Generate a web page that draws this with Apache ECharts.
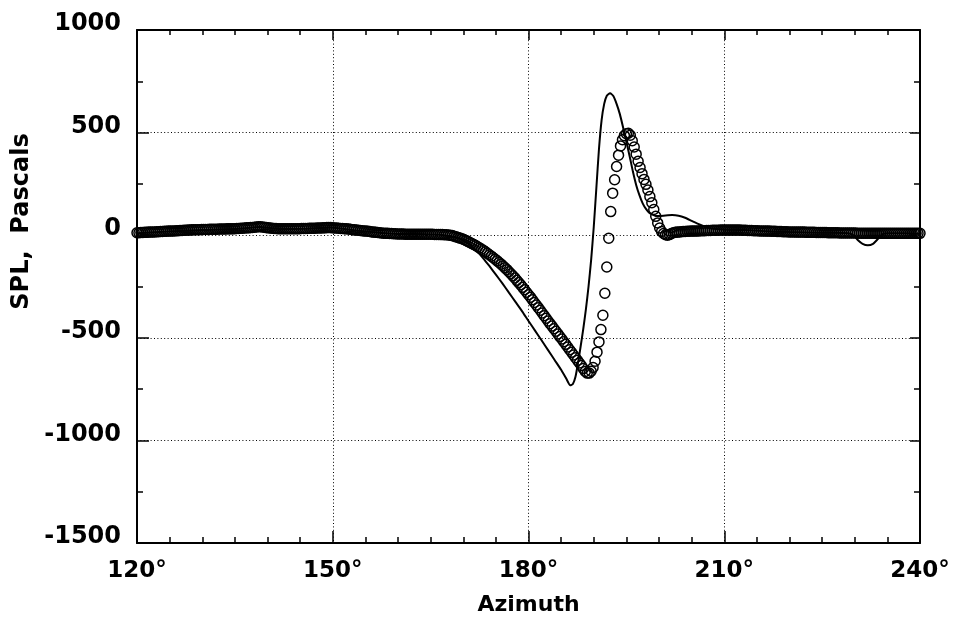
<!DOCTYPE html>
<html>
<head>
<meta charset="utf-8">
<script src="https://cdn.jsdelivr.net/npm/echarts@6/dist/echarts.min.js"></script>
<style>
  html, body { margin: 0; padding: 0; background: #fff; }
  #chart { width: 973px; height: 622px; }
</style>
</head>
<body>
<div id="chart"></div>
<script>
// Azimuth axis ticks (degrees) and SPL axis ticks (Pascals)
const azimuthTicks = [120, 150, 180, 210, 240];
const splTicks = [-1500, -1000, -500, 0, 500, 1000];

// Measured samples: uniform azimuth grid starting at 120 deg, 0.3 deg apart
const measuredAzStart = 120;
const measuredAzStep = 0.3;
const measuredSpl = [
  12, 12, 13, 13, 14, 14, 15, 15, 16, 16,
  17, 17, 18, 18, 19, 19, 20, 20, 21, 21,
  22, 22, 23, 23, 24, 24, 25, 25, 26, 26,
  27, 27, 27, 28, 28, 28, 28, 29, 29, 29,
  29, 29, 30, 30, 30, 30, 31, 31, 31, 32,
  32, 33, 33, 34, 34, 35, 36, 36, 37, 38,
  39, 40, 41, 41, 40, 39, 37, 36, 35, 34,
  33, 33, 32, 32, 32, 32, 32, 32, 32, 32,
  32, 32, 32, 32, 33, 33, 33, 33, 34, 34,
  34, 34, 35, 35, 35, 36, 36, 37, 37, 37,
  36, 35, 35, 34, 33, 33, 32, 31, 30, 29,
  27, 26, 25, 24, 23, 22, 21, 20, 19, 18,
  16, 15, 14, 13, 12, 11, 10, 10, 9, 8,
  8, 7, 7, 6, 6, 6, 6, 5, 5, 5,
  5, 5, 5, 5, 5, 5, 5, 5, 5, 5,
  5, 5, 4, 4, 4, 3, 3, 2, 2, 1,
  0, -2, -5, -8, -11, -14, -17, -21, -26, -30,
  -35, -40, -45, -50, -56, -62, -68, -74, -81, -88,
  -95, -102, -110, -117, -125, -133, -141, -150, -159, -168,
  -178, -188, -198, -208, -220, -231, -242, -254, -266, -278,
  -290, -302, -315, -328, -340, -353, -366, -379, -392, -405,
  -418, -431, -443, -456, -468, -481, -494, -506, -519, -532,
  -545, -558, -571, -584, -597, -610, -623, -635, -650, -664,
  -672, -672, -663, -645, -614, -570, -520, -460, -390, -283,
  -155, -15, 115, 205, 270, 335, 390, 435, 465, 485,
  495, 497, 487, 460, 430, 395, 360, 330, 300, 272,
  248, 220, 188, 158, 125, 92, 60, 35, 18, 8,
  2, 0, 3, 8, 12, 14, 15, 16, 17, 18,
  18, 19, 19, 20, 20, 20, 21, 21, 22, 22,
  22, 23, 23, 23, 24, 24, 24, 24, 25, 25,
  25, 25, 25, 25, 25, 25, 25, 25, 25, 24,
  24, 24, 23, 23, 23, 22, 22, 22, 21, 21,
  21, 20, 20, 20, 19, 19, 19, 18, 18, 18,
  17, 17, 17, 16, 16, 16, 16, 15, 15, 15,
  15, 15, 14, 14, 14, 14, 14, 13, 13, 13,
  13, 13, 13, 12, 12, 12, 12, 12, 12, 11,
  11, 11, 11, 11, 11, 11, 11, 11, 10, 10,
  10, 10, 10, 10, 10, 10, 10, 10, 9, 9,
  9, 9, 9, 9, 9, 9, 9, 9, 9, 9,
  9, 9, 9, 9, 9, 9, 9, 9, 9, 9,
  9
];

// Predicted waveform (solid curve)
const predictedAz = [
  120, 125, 130, 135, 138.9, 142, 146, 149.6, 153, 157, 160, 164, 166, 167, 168, 169,
  170, 171, 172, 173, 174, 175, 176, 177, 178, 179, 180, 181, 182, 183, 184, 185,
  185.8, 186.4, 186.8, 187.2, 187.6, 188.0, 188.4, 188.8, 189.2, 189.6, 190.0, 190.4,
  190.8, 191.2, 191.6, 192.0, 192.5, 193.0, 193.5, 194.0, 194.5, 195.0, 195.5, 196.0,
  196.5, 197.0, 197.5, 198.0, 198.5, 199.0, 199.5, 200.0, 201, 202, 203, 204, 205,
  206, 207, 208, 210, 213, 216, 220, 225, 229, 229.8, 230.5, 231.2, 232.0, 232.8,
  233.5, 234.3, 235, 240
];
const predictedSpl = [
  10, 18, 25, 30, 40, 30, 32, 37, 25, 12, 6, 5, 3, 0, -5, -12,
  -25, -45, -75, -110, -150, -192, -235, -280, -325, -370, -418, -465, -512, -560, -608, -656,
  -700, -731, -725, -690, -620, -540, -455, -360, -250, -120, 40, 230,
  420, 560, 640, 680, 692, 678, 640, 590, 525, 455, 385, 310,
  245, 195, 155, 128, 110, 100, 94, 93, 96, 98, 95, 85, 70,
  55, 42, 33, 28, 25, 20, 15, 12, 10, 0, -25, -42, -49, -42,
  -20, 5, 10, 8
];

const measuredPoints = measuredSpl.map((v, i) => [measuredAzStart + i * measuredAzStep, v]);
const predictedPoints = predictedAz.map((a, i) => [a, predictedSpl[i]]);

const FONT = 'DejaVu Sans';
const axisLineStyle = { color: '#000', width: 2 };
const gridLineStyle = { color: '#000', width: 1, type: [1, 2.4] };

const chart = echarts.init(document.getElementById('chart'), null, { renderer: 'canvas' });

chart.setOption({
  backgroundColor: '#fff',
  animation: false,
  textStyle: { fontFamily: FONT, fontWeight: 'bold', color: '#000' },
  grid: { left: 137, right: 53, top: 30, bottom: 79, containLabel: false },
  xAxis: [
    {
      type: 'value',
      position: 'bottom',
      min: azimuthTicks[0],
      max: azimuthTicks[azimuthTicks.length - 1],
      interval: 30,
      name: 'Azimuth',
      nameLocation: 'middle',
      nameGap: 51,
      nameTextStyle: { fontFamily: FONT, fontWeight: 'bold', fontSize: 22, color: '#000' },
      axisLine: { show: true, onZero: false, lineStyle: axisLineStyle },
      axisTick: { show: true, inside: true, length: 12, lineStyle: { color: '#000', width: 1.5 } },
      minorTick: { show: true, splitNumber: 6, length: 6, lineStyle: { color: '#000', width: 1.5 } },
      axisLabel: {
        margin: 17,
        fontFamily: FONT, fontWeight: 'bold', fontSize: 23, color: '#000',
        formatter: v => v + '°'
      },
      splitLine: {
        show: true, lineStyle: gridLineStyle,
        showMinLine: false, showMaxLine: false
      }
    },
    {
      type: 'value',
      position: 'top',
      min: azimuthTicks[0],
      max: azimuthTicks[azimuthTicks.length - 1],
      interval: 30,
      axisLine: { show: true, onZero: false, lineStyle: axisLineStyle },
      axisTick: { show: true, inside: true, length: 10, lineStyle: { color: '#000', width: 1.5 } },
      minorTick: { show: true, splitNumber: 6, length: 5, lineStyle: { color: '#000', width: 1.5 } },
      axisLabel: { show: false },
      splitLine: { show: false }
    }
  ],
  yAxis: [
    {
      type: 'value',
      position: 'left',
      min: splTicks[0],
      max: splTicks[splTicks.length - 1],
      interval: 500,
      name: 'SPL,  Pascals',
      nameLocation: 'middle',
      nameGap: 93,
      nameRotate: 90,
      nameTextStyle: {
        fontFamily: FONT, fontWeight: 'bold', fontSize: 24, color: '#000',
        padding: [0, 0, 0, 130]
      },
      axisLine: { show: true, onZero: false, lineStyle: axisLineStyle },
      axisTick: { show: true, inside: true, length: 12, lineStyle: { color: '#000', width: 1.5 } },
      minorTick: { show: true, splitNumber: 2, length: 6, lineStyle: { color: '#000', width: 1.5 } },
      axisLabel: {
        margin: 16,
        fontFamily: FONT, fontWeight: 'bold', fontSize: 24, color: '#000',
        verticalAlign: 'bottom',
        lineHeight: 12,
        formatter: v => String(v)
      },
      splitLine: {
        show: true, lineStyle: gridLineStyle,
        showMinLine: false, showMaxLine: false
      }
    },
    {
      type: 'value',
      position: 'right',
      min: splTicks[0],
      max: splTicks[splTicks.length - 1],
      interval: 500,
      axisLine: { show: true, onZero: false, lineStyle: axisLineStyle },
      axisTick: { show: true, inside: true, length: 10, lineStyle: { color: '#000', width: 1.5 } },
      minorTick: { show: true, splitNumber: 2, length: 6, lineStyle: { color: '#000', width: 1.5 } },
      axisLabel: { show: false },
      splitLine: { show: false }
    }
  ],
  series: [
    {
      name: 'Measured',
      type: 'scatter',
      xAxisIndex: 0,
      yAxisIndex: 0,
      data: measuredPoints,
      symbol: 'circle',
      symbolSize: 10,
      clip: false,
      itemStyle: { color: 'rgba(0,0,0,0)', borderColor: '#000', borderWidth: 1.5, opacity: 1 },
      emphasis: { disabled: true },
      z: 3
    },
    {
      name: 'Predicted',
      type: 'line',
      xAxisIndex: 0,
      yAxisIndex: 0,
      data: predictedPoints,
      showSymbol: false,
      smooth: 0.2,
      lineStyle: { color: '#000', width: 2 },
      emphasis: { disabled: true },
      z: 4
    }
  ]
});
</script>
</body>
</html>
